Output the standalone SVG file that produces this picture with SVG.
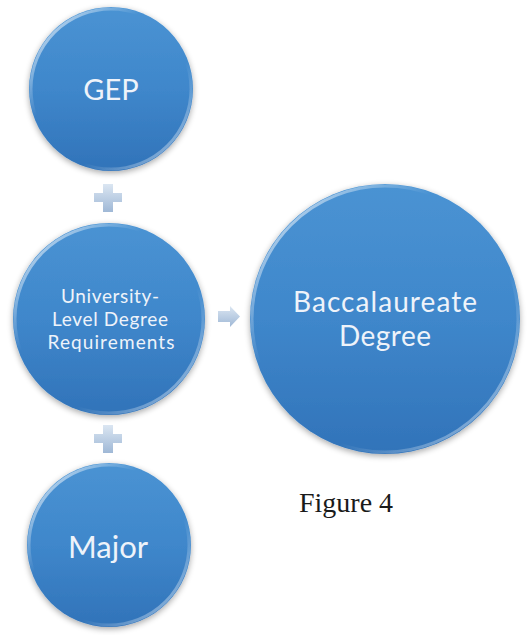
<svg xmlns="http://www.w3.org/2000/svg" width="531" height="635" viewBox="0 0 531 635">
<defs>
<linearGradient id="ball" x1="0" y1="0" x2="0" y2="1">
<stop offset="0" stop-color="#4a93d3"/>
<stop offset="0.5" stop-color="#3f87cb"/>
<stop offset="1" stop-color="#3173b9"/>
</linearGradient>
<linearGradient id="rim" x1="0" y1="0" x2="1" y2="1">
<stop offset="0" stop-color="#ffffff" stop-opacity="0.85"/>
<stop offset="0.35" stop-color="#ffffff" stop-opacity="0"/>
<stop offset="0.65" stop-color="#ffffff" stop-opacity="0"/>
<stop offset="1" stop-color="#ffffff" stop-opacity="0.6"/>
</linearGradient>
<linearGradient id="conn" x1="0" y1="0" x2="0" y2="1">
<stop offset="0" stop-color="#dbe6f2"/>
<stop offset="1" stop-color="#9fb8d6"/>
</linearGradient>
<filter id="sh" x="-20%" y="-20%" width="140%" height="140%">
<feGaussianBlur in="SourceAlpha" stdDeviation="3"/>
<feOffset dx="0" dy="2"/>
<feComponentTransfer><feFuncA type="linear" slope="0.35"/></feComponentTransfer>
<feMerge><feMergeNode/><feMergeNode in="SourceGraphic"/></feMerge>
</filter>
</defs>
<style>
.ball{fill:url(#ball);filter:url(#sh)}
.rim{fill:none;stroke:url(#rim);stroke-width:3}
.lbl{font-family:Lato,"Open Sans",sans-serif;fill:#eef3fa;text-anchor:middle}
.conn{fill:url(#conn)}
.cap{font-family:"Liberation Serif","Times New Roman",serif;fill:#1a1a1a;font-size:28px}
</style>
<g id="connectors">
<path class="conn" d="M103,184h10v9h9v9h-9v10h-10v-10h-9v-9h9z"/>
<path class="conn" d="M103,425h10v9h9v9h-9v10h-10v-10h-9v-9h9z"/>
<path class="conn" d="M218,311h12v-5l10,10.5l-10,10.5v-5h-12z"/>
</g>
<g id="node-gep">
<circle class="ball" cx="111" cy="89" r="82"/>
<circle class="rim" cx="111" cy="89" r="80"/>
<text class="lbl" x="111" y="100" font-size="29">GEP</text>
</g>
<g id="node-university">
<circle class="ball" cx="109" cy="319" r="96"/>
<circle class="rim" cx="109" cy="319" r="94"/>
<text class="lbl" x="110" y="303" font-size="19" textLength="98" lengthAdjust="spacing">University-</text>
<text class="lbl" x="110" y="326" font-size="19" textLength="116" lengthAdjust="spacing">Level Degree</text>
<text class="lbl" x="111" y="349" font-size="19" textLength="127" lengthAdjust="spacing">Requirements</text>
</g>
<g id="node-major">
<circle class="ball" cx="109" cy="545" r="82"/>
<circle class="rim" cx="109" cy="545" r="80"/>
<text class="lbl" x="108" y="558" font-size="31">Major</text>
</g>
<g id="node-baccalaureate">
<circle class="ball" cx="385" cy="319" r="135"/>
<circle class="rim" cx="385" cy="319" r="133"/>
<text class="lbl" x="385" y="312" font-size="28" textLength="184" lengthAdjust="spacing">Baccalaureate</text>
<text class="lbl" x="385" y="346" font-size="28" textLength="92" lengthAdjust="spacing">Degree</text>
</g>
<text class="cap" x="299" y="512">Figure 4</text>
</svg>
